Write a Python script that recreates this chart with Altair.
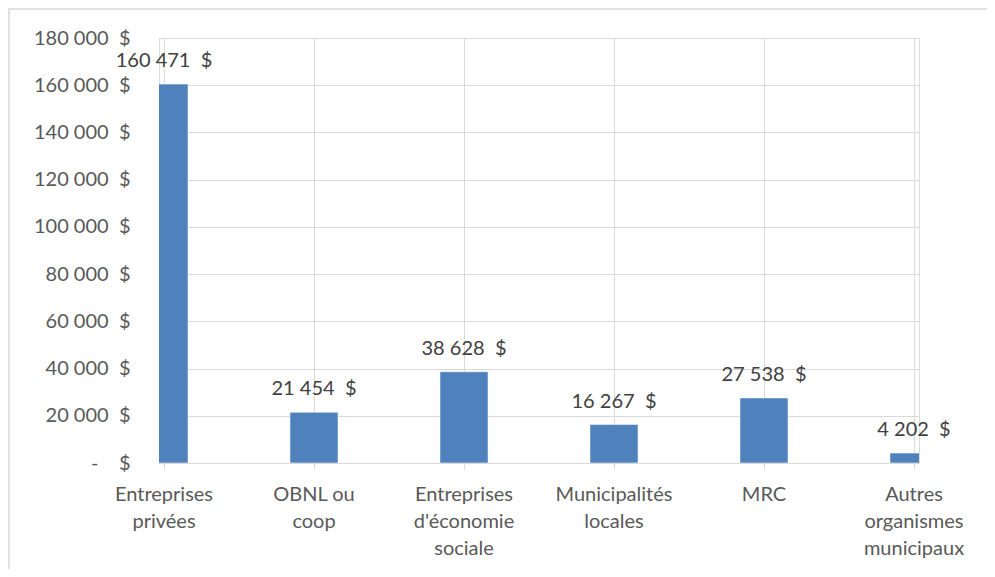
import altair as alt
import pandas as pd

categories = [
    "Entreprises\nprivées",
    "OBNL ou\ncoop",
    "Entreprises\nd'économie\nsociale",
    "Municipalités\nlocales",
    "MRC",
    "Autres\norganismes\nmunicipaux",
]
values = [160471, 21454, 38628, 16267, 27538, 4202]
y_ticks = [0, 20000, 40000, 60000, 80000, 100000, 120000, 140000, 160000, 180000]

NB = "\u00a0"


def fmt(v):
    return f"{v:,}".replace(",", NB) + NB + NB + "$"


df = pd.DataFrame({
    "idx": list(range(len(categories))),
    "cat": categories,
    "val": values,
    "lab": [fmt(v) for v in values],
})

W, H = 760, 425
FONT = "Lato"
FS = 20

x = alt.X(
    "idx:Q",
    scale=alt.Scale(domain=[0, len(categories) - 1], nice=False, zero=False),
    axis=alt.Axis(
        values=list(range(len(categories))),
        labels=False,
        grid=True,
        gridColor="#d9d9d9",
        domainColor="#d9d9d9",
        tickColor="#d9d9d9",
        tickSize=6,
        title=None,
    ),
)

y_label_expr = (
    f"datum.value == 0 ? '-{NB*4}$' : "
    f"replace(format(datum.value, ',d'), ',', '{NB}') + '{NB}{NB}$'"
)

y = alt.Y(
    "val:Q",
    scale=alt.Scale(domain=[0, 180000], nice=False),
    axis=alt.Axis(
        values=y_ticks,
        labelExpr=y_label_expr,
        grid=True,
        gridColor="#d9d9d9",
        domain=False,
        ticks=False,
        labelPadding=29,
        labelFont=FONT,
        labelFontSize=FS,
        labelColor="#595959",
        title=None,
    ),
)

base = alt.Chart(df)

frame = alt.Chart(pd.DataFrame({"k": [0]})).mark_rect(
    fill="transparent", stroke="#d9d9d9", strokeWidth=1.5
).encode(
    x=alt.value(-150), x2=alt.value(1000), y=alt.value(-29), y2=alt.value(620)
)

bars = base.mark_bar(size=48, color="#4F81BD", clip=True, stroke="#ffffff", strokeWidth=0.5).encode(x=x, y=y)

value_labels = base.mark_text(
    baseline="bottom", dy=-13, font=FONT, fontSize=FS, color="#404040"
).encode(x=alt.X("idx:Q"), y=alt.Y("val:Q"), text="lab:N")

cat_labels = base.mark_text(
    baseline="top", lineBreak="\n", lineHeight=27, font=FONT, fontSize=FS,
    color="#595959", align="center"
).encode(x=alt.X("idx:Q"), y=alt.value(H + 22), text="cat:N")

chart = alt.layer(frame, bars, value_labels, cat_labels).properties(
    width=W, height=H,
    autosize=alt.AutoSizeParams(type="none"),
    padding={"left": 151, "top": 30, "right": 68, "bottom": 106},
).configure_view(stroke=None).configure(background="white")

chart.save("out.html", embed_options={"renderer": "svg", "actions": False})
